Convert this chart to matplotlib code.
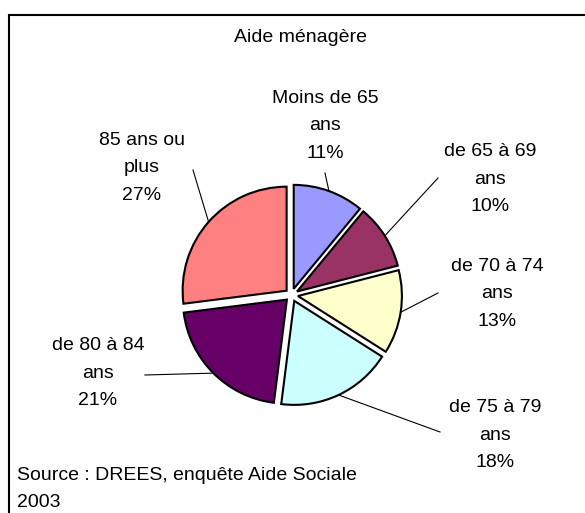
import matplotlib
matplotlib.use("Agg")
import matplotlib.pyplot as plt
import numpy as np

plt.rcParams['font.family'] = ['Liberation Sans', 'DejaVu Sans']

title = "Aide ménagère"
categories = ["Moins de 65\nans", "de 65 à 69\nans", "de 70 à 74\nans",
              "de 75 à 79\nans", "de 80 à 84\nans", "85 ans ou\nplus"]
values = [11, 10, 13, 18, 21, 27]
colors = ["#9999FF", "#993366", "#FFFFCC", "#CCFFFF", "#660066", "#FF8080"]
source = "Source : DREES, enquête Aide Sociale\n2003"

W, H = 585, 513
fig = plt.figure(figsize=(W / 100, H / 100), dpi=100)
ax = fig.add_axes([0, 0, 1, 1])

cx, cy = 291.5, H - 295
R = 104
expl = 6.5
fs = 14

# frame
ax.plot([9, 9, W + 5], [-5, H - 15, H - 15], color='black', lw=1.5,
        solid_joinstyle='miter', clip_on=False)

wedges, _ = ax.pie(values, colors=colors, startangle=90, counterclock=False,
                   explode=[expl] * len(values), radius=R, center=(cx, cy),
                   wedgeprops=dict(edgecolor='black', linewidth=1.5),
                   frame=True)
ax.set_xlim(0, W)
ax.set_ylim(0, H)
ax.set_aspect('equal')
ax.axis('off')

# label positions (pixel, y-down) and leader-line ends
label_pos = [(325, 126), (490, 179), (497, 294), (495, 435), (98, 373), (142, 168)]
line_end = [(325, 173), (438, 178), (438, 293), (440, 432), (145, 375), (193, 170)]

total = sum(values)
cum = 0
for i, v in enumerate(values):
    mid = (cum + v / 2) / total * 360
    cum += v
    th = np.deg2rad(90 - mid)
    rr = R + expl
    ex, ey = cx + rr * np.cos(th), cy + rr * np.sin(th)
    lx, ly = line_end[i]
    ax.plot([ex, lx], [ey, H - ly], color='black', lw=0.8)
    pct = f"{v}%"
    tx, ty = label_pos[i]
    ax.text(tx, H - ty, categories[i] + "\n" + pct, ha='center', va='center',
            fontsize=fs, linespacing=1.8)

ax.text(300, H - 38, title, ha='center', va='center', fontsize=fs)
ax.text(17, H - 489, source, ha='left', va='center', fontsize=fs,
        linespacing=1.8, clip_on=False)

fig.savefig("out.png", dpi=100)
